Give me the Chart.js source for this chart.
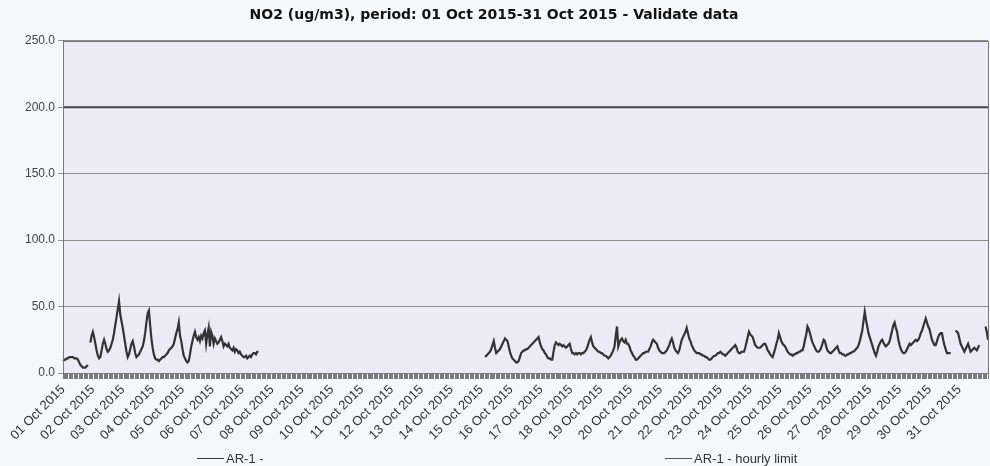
<!DOCTYPE html>
<html>
<head>
<meta charset="utf-8">
<title>NO2 hourly, October 2015</title>
<script src="https://cdn.jsdelivr.net/npm/chart.js@4.4.0/dist/chart.umd.min.js"></script>
<style>
  html, body { margin: 0; padding: 0; background: #f5f8fa; }
  #wrap { position: relative; width: 990px; height: 466px; }
  .legend-item {
    position: absolute; top: 450px; height: 16px;
    display: flex; align-items: center;
    font: 13px "Liberation Sans", Arial, sans-serif; color: #333;
  }
  .legend-item .swatch { display: inline-block; width: 27px; border-top: 1.5px solid #3a3a3a; margin-right: 2px; }
</style>
</head>
<body>
<div id="wrap">
  <canvas id="no2Chart" width="990" height="466"></canvas>
  <div class="legend-item" style="left:197px"><span class="swatch"></span><span id="legendData"></span></div>
  <div class="legend-item" style="left:665px"><span class="swatch" style="border-color:#555"></span><span id="legendLimit"></span></div>
</div>
<script>
const chartTitle = 'NO2 (ug/m3), period: 01 Oct 2015-31 Oct 2015 - Validate data';
const dataLabel = 'AR-1 -';
const limitLabel = 'AR-1 - hourly limit';

const dayLabels = [
  '01 Oct 2015', '02 Oct 2015', '03 Oct 2015', '04 Oct 2015', '05 Oct 2015', '06 Oct 2015',
  '07 Oct 2015', '08 Oct 2015', '09 Oct 2015', '10 Oct 2015', '11 Oct 2015', '12 Oct 2015',
  '13 Oct 2015', '14 Oct 2015', '15 Oct 2015', '16 Oct 2015', '17 Oct 2015', '18 Oct 2015',
  '19 Oct 2015', '20 Oct 2015', '21 Oct 2015', '22 Oct 2015', '23 Oct 2015', '24 Oct 2015',
  '25 Oct 2015', '26 Oct 2015', '27 Oct 2015', '28 Oct 2015', '29 Oct 2015', '30 Oct 2015',
  '31 Oct 2015'
];
const hoursPerDay = 24;

// hourly NO2, one row per day (00:00 .. 23:00), null = no validated value
const ar1Values = [
  9, 10, 10, 11, 11, 12, 12, 12, 12, 11, 11, 11, 10, 8, 6, 5, 4, 4, 4, 5, 6, null, 23, 28,
  31, 27, 22, 17, 13, 11, 12, 17, 22, 25, 22, 18, 16, 17, 19, 22, 25, 30, 36, 42, 48, 54, 44, 39,
  34, 28, 22, 16, 12, 14, 18, 22, 24, 20, 15, 12, 13, 14, 16, 18, 20, 24, 30, 38, 45, 47, 36, 26,
  19, 14, 11, 10, 10, 9, 10, 11, 12, 12, 13, 14, 15, 17, 18, 19, 20, 22, 26, 30, 33, 38, 28, 24,
  18, 13, 11, 9, 8, 9, 14, 20, 24, 28, 31, 27, 25, 27, 24, 28, 26, 30, 32, 22, 29, 34, 20, 31,
  28, 22, 26, 24, 22, 23, 25, 27, 24, 20, 22, 21, 20, 22, 19, 18, 17, 19, 16, 18, 17, 15, 16, 14,
  13, 12, 12, 13, 11, 12, 13, 12, 14, 15, 15, 14, 16, 16, null, null, null, null, null, null, null, null, null, null,
  null, null, null, null, null, null, null, null, null, null, null, null, null, null, null, null, null, null, null, null, null, null, null, null,
  null, null, null, null, null, null, null, null, null, null, null, null, null, null, null, null, null, null, null, null, null, null, null, null,
  null, null, null, null, null, null, null, null, null, null, null, null, null, null, null, null, null, null, null, null, null, null, null, null,
  null, null, null, null, null, null, null, null, null, null, null, null, null, null, null, null, null, null, null, null, null, null, null, null,
  null, null, null, null, null, null, null, null, null, null, null, null, null, null, null, null, null, null, null, null, null, null, null, null,
  null, null, null, null, null, null, null, null, null, null, null, null, null, null, null, null, null, null, null, null, null, null, null, null,
  null, null, null, null, null, null, null, null, null, null, null, null, null, null, null, null, null, null, null, null, null, null, null, null,
  null, null, null, 12, 13, 14, 15, 16, 18, 21, 24, 19, 15, 16, 17, 18, 20, 22, 24, 26, 25, 24, 20, 16,
  13, 11, 10, 9, 8, 8, 9, 12, 15, 16, 17, 17, 18, 18, 19, 20, 21, 22, 23, 24, 25, 26, 27, 23,
  20, 18, 17, 15, 14, 12, 11, 11, 10, 10, 16, 21, 23, 22, 21, 22, 21, 20, 21, 20, 19, 20, 21, 22,
  18, 15, 15, 14, 15, 14, 15, 15, 14, 15, 15, 16, 17, 19, 22, 25, 27, 23, 20, 19, 18, 17, 16, 16,
  15, 15, 14, 13, 13, 12, 11, 12, 13, 15, 17, 20, 28, 35, 20, 23, 25, 26, 24, 23, 25, 22, 22, 20,
  17, 15, 13, 12, 10, 10, 11, 12, 13, 14, 15, 15, 16, 16, 16, 18, 20, 23, 25, 24, 23, 22, 19, 17,
  16, 15, 15, 15, 16, 17, 19, 21, 24, 26, 23, 19, 17, 16, 15, 17, 21, 25, 27, 29, 31, 34, 30, 26,
  24, 21, 19, 17, 16, 15, 15, 15, 14, 14, 13, 13, 12, 12, 11, 10, 10, 11, 12, 13, 13, 14, 15, 15,
  16, 15, 14, 14, 13, 14, 15, 16, 17, 18, 19, 20, 21, 19, 16, 15, 15, 16, 16, 16, 19, 23, 27, 31,
  29, 28, 27, 24, 21, 20, 19, 19, 19, 20, 21, 22, 22, 20, 17, 16, 14, 13, 12, 15, 18, 22, 25, 30,
  27, 24, 22, 21, 20, 18, 16, 15, 14, 14, 13, 14, 14, 15, 15, 16, 16, 17, 17, 20, 25, 29, 35, 33,
  30, 26, 23, 21, 19, 17, 16, 16, 17, 19, 22, 25, 24, 20, 17, 16, 15, 15, 16, 17, 18, 19, 20, 17,
  15, 15, 14, 14, 13, 13, 14, 14, 15, 15, 16, 16, 17, 18, 19, 21, 24, 28, 32, 39, 46, 40, 35, 30,
  27, 24, 21, 18, 15, 13, 16, 20, 22, 24, 25, 23, 21, 20, 21, 22, 24, 28, 32, 36, 38, 34, 31, 25,
  21, 18, 16, 15, 15, 16, 18, 20, 22, 21, 22, 23, 24, 25, 24, 25, 27, 30, 32, 35, 38, 41, 38, 35,
  33, 29, 25, 23, 21, 21, 24, 27, 29, 30, 30, 25, 21, 18, 15, 15, 15, 15, null, null, null, 32, 31, 30,
  26, 22, 20, 18, 16, 18, 20, 22, 19, 16, 17, 18, 19, 18, 17, 19, 21, null, null, null, null, 35, 31, 25
];

const hourlyLimit = 200;
const yMin = 0;
const yMax = 250;
const yStep = 50;

const hourLabels = [];
dayLabels.forEach(day => {
  for (let h = 0; h < hoursPerDay; h++) hourLabels.push(`${day} ${String(h).padStart(2, '0')}:00`);
});

document.getElementById('legendData').textContent = dataLabel;
document.getElementById('legendLimit').textContent = limitLabel;

const plotFrame = {
  id: 'plotFrame',
  beforeDraw(chart) {
    const { ctx, chartArea: a } = chart;
    ctx.save();
    ctx.fillStyle = '#ecebf5';
    ctx.fillRect(a.left, a.top, a.width, a.height);
    ctx.restore();
  },
  afterDraw(chart) {
    const { ctx, chartArea: a } = chart;
    ctx.save();
    ctx.strokeStyle = '#7a7a7a';
    ctx.lineWidth = 1;
    ctx.strokeRect(Math.round(a.left) + 0.5, Math.round(a.top) + 0.5, Math.round(a.width), Math.round(a.height));
    ctx.restore();
  }
};

const fontFamily = '"Liberation Sans", Arial, sans-serif';

new Chart(document.getElementById('no2Chart'), {
  type: 'line',
  data: {
    labels: hourLabels,
    datasets: [
      {
        label: dataLabel,
        data: ar1Values,
        borderColor: '#333',
        borderWidth: 2.2,
        pointRadius: 0,
        spanGaps: false,
        tension: 0
      },
      {
        label: limitLabel,
        data: hourLabels.map(() => hourlyLimit),
        borderColor: '#444',
        borderWidth: 1.8,
        pointRadius: 0,
        tension: 0
      }
    ]
  },
  options: {
    responsive: false,
    animation: false,
    layout: { padding: { top: 0, right: 2, bottom: 20, left: 0 } },
    plugins: {
      legend: { display: false },
      tooltip: { enabled: false },
      title: {
        display: true,
        text: chartTitle,
        color: '#111',
        font: { family: '"DejaVu Sans", Verdana, sans-serif', size: 14, weight: 'bold' },
        padding: { top: 7, bottom: 17 }
      }
    },
    scales: {
      x: {
        type: 'category',
        offset: false,
        afterFit: scale => { scale.height = 73; scale.paddingRight = 0; },
        grid: { display: true, drawOnChartArea: false, drawTicks: true, tickLength: 6, color: '#444', lineWidth: 0.7 },
        border: { display: true, color: '#777' },
        ticks: {
          autoSkip: false,
          minRotation: 45,
          maxRotation: 45,
          padding: 3,
          color: '#333',
          font: { family: fontFamily, size: 13 },
          callback: (value, index) => (index % hoursPerDay === 0 ? dayLabels[index / hoursPerDay] : '')
        }
      },
      y: {
        min: yMin,
        max: yMax,
        afterFit: scale => { scale.width = 63; },
        grid: { color: '#8f8f8f', lineWidth: 1, tickLength: 5 },
        border: { display: true, color: '#777' },
        ticks: {
          stepSize: yStep,
          padding: 3,
          color: '#444',
          font: { family: fontFamily, size: 12 },
          callback: v => Number(v).toFixed(1)
        }
      }
    }
  },
  plugins: [plotFrame]
});
</script>
</body>
</html>
